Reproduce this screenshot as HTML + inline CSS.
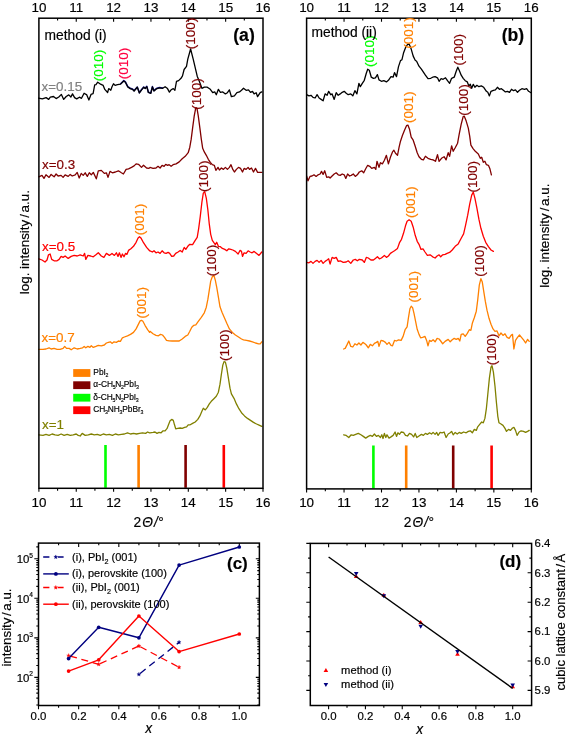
<!DOCTYPE html>
<html><head><meta charset="utf-8"><title>figure</title>
<style>
html,body{margin:0;padding:0;background:#fff;overflow:hidden}
svg{display:block}
text{font-family:"Liberation Sans",Arial,sans-serif;fill:#000;stroke:#000;stroke-width:0.18px;stroke-linejoin:round}
.t{font-size:13.4px;text-anchor:middle}
.t2{font-size:11.4px;text-anchor:middle}
.yl{font-size:13.4px}
.ax{fill:none;stroke:#000;stroke-width:1.5}
.tk{stroke:#000;stroke-width:1.1;fill:none}
.c{fill:none;stroke-linejoin:round;stroke-linecap:round}
.pk{font-size:13.5px}
.lab{font-size:13.8px}
.pl{font-size:17.6px;font-weight:bold;text-anchor:middle}
.lg{font-size:8.4px;stroke-width:0.15px}
.lg2{font-size:11.2px}
</style></head><body>
<svg width="567" height="736" viewBox="0 0 567 736">
<rect width="567" height="736" fill="#fff"/>

<rect x="104.2" y="445" width="2.6" height="42.8" fill="#00ff00"/>
<rect x="137.3" y="445" width="2.6" height="42.8" fill="#ff8000"/>
<rect x="184.3" y="445" width="2.6" height="42.8" fill="#800000"/>
<rect x="222.5" y="445" width="2.6" height="42.8" fill="#ff0000"/>
<rect x="372.1" y="445.5" width="2.6" height="42.9" fill="#00ff00"/>
<rect x="404.9" y="445.5" width="2.6" height="42.9" fill="#ff8000"/>
<rect x="451.9" y="445.5" width="2.6" height="42.9" fill="#800000"/>
<rect x="490.3" y="445.5" width="2.6" height="42.9" fill="#ff0000"/>
<polyline class="c" stroke="#1a1a9a" stroke-width="1.5"  points="120.6,83.8 123.8,80.6 125.4,81.9 127.8,86.6 130.2,88.2 132.5,89.0 134.1,90.6 137.3,87.0 139.4,92.7 141.6,89.5 143.7,87.0 145.2,88.2 146.8,86.3 148.4,92.2 150.8,93.0 152.4,86.6 154.0,90.6 156.3,88.5 159.5,87.4 162.7,87.9"/>
<polyline class="c" stroke="#000" stroke-width="1.3"  points="38.6,98.1 42.3,98.9 46.1,97.6 48.7,99.4 50.3,97.2 53.5,96.5 56.1,98.6 58.8,97.0 61.4,94.4 63.7,99.4 66.2,96.5 68.8,94.9 70.9,97.0 72.5,93.9 74.6,97.6 76.7,98.9 79.4,97.2 81.5,98.3 84.1,93.3 86.8,94.9 88.9,100.0 91.0,94.4 93.1,93.7 94.7,84.9 96.0,84.6 97.7,82.2 100.0,83.8 103.2,85.4 104.8,89.4 107.6,92.5 108.7,88.6 110.8,90.2 111.9,87.0 113.5,83.8 115.1,85.4 117.5,84.6 120.6,84.1 123.8,81.0 125.4,82.2 127.8,87.0 130.2,88.6 132.5,89.4 134.1,91.0 137.3,87.3 139.4,93.0 141.6,89.8 143.7,87.3 145.2,88.6 146.8,86.7 148.4,92.5 150.8,93.3 152.4,87.0 154.0,91.0 156.3,88.9 159.5,87.8 162.7,88.3 165.1,86.7 167.5,88.6 169.4,92.1 171.1,89.8 173.3,88.6 174.9,90.2 176.5,81.4 178.6,80.6 181.0,78.3 182.5,75.9 184.1,69.5 186.5,66.3 187.8,59.1 190.6,49.0 193.2,59.1 197.2,76.2 199.3,81.2 201.9,88.3 204.3,87.2 207.3,87.2 210.3,89.3 212.7,92.7 214.7,91.9 216.3,94.7 218.4,89.3 220.4,92.3 222.8,91.9 225.4,93.9 227.4,92.7 229.4,89.9 231.4,96.7 234.4,95.9 236.9,92.7 239.5,91.9 241.5,90.3 243.5,88.3 246.1,90.3 248.5,89.9 250.5,92.3 252.5,91.3 254.1,93.9 256.2,92.7 257.6,96.7 260.2,92.7 261.8,91.9"/>
<polyline class="c" stroke="#800000" stroke-width="1.3"  points="38.8,176.8 42.0,175.4 44.0,178.4 46.0,174.8 49.1,177.4 51.1,174.4 54.1,176.8 56.1,174.0 58.1,176.0 61.1,175.4 63.1,177.4 65.1,174.8 68.2,176.4 70.2,174.4 72.2,176.0 75.2,174.8 77.2,172.4 79.2,178.0 81.2,173.4 83.2,175.4 85.2,172.8 87.3,176.4 89.3,172.8 91.3,174.8 93.3,172.4 96.3,178.8 98.3,170.8 101.3,170.4 104.3,173.4 106.4,172.8 108.0,177.4 110.0,171.4 112.4,172.8 115.4,172.0 118.4,170.8 121.4,172.8 123.4,174.0 126.1,169.4 128.5,168.8 131.5,167.4 134.1,165.9 136.1,163.9 138.5,164.3 141.5,167.4 143.5,165.3 146.6,168.0 149.0,168.4 150.0,167.4 153.0,168.4 156.0,168.0 158.0,166.3 160.1,168.0 162.1,165.3 164.1,166.3 165.7,164.3 167.7,165.3 169.1,164.7 171.1,166.3 173.1,164.7 176.1,163.9 179.2,161.9 182.2,158.7 185.2,156.3 188.2,152.7 189.8,147.2 191.2,139.2 192.6,128.1 194.2,116.1 195.8,107.6 197.0,108.4 198.3,116.1 199.9,128.1 201.3,139.2 202.7,148.3 204.3,151.9 206.3,155.3 208.3,159.3 210.3,162.3 212.3,164.7 214.3,165.3 215.9,170.4 218.0,167.4 219.4,170.0 221.4,168.0 223.4,169.4 225.4,167.4 227.4,169.4 229.4,167.4 231.0,164.7 232.8,169.4 234.4,172.0 236.4,169.4 238.5,167.4 240.5,168.4 242.5,172.0 244.1,168.4 246.1,169.4 248.1,167.4 249.5,169.4 251.5,168.0 253.5,172.0 255.5,168.4 257.6,172.4 261.8,172.4"/>
<polyline class="c" stroke="#ff0000" stroke-width="1.3"  points="38.8,258.8 42.0,260.0 45.0,262.0 47.0,260.0 48.5,254.8 50.1,254.0 51.7,259.4 54.1,260.8 57.1,260.8 59.1,259.4 61.1,256.4 63.1,257.4 65.1,256.0 68.2,258.4 71.2,256.4 74.2,255.4 77.2,256.0 80.2,254.8 83.2,256.0 84.6,253.4 85.8,259.4 87.9,255.4 90.7,256.0 93.3,256.8 95.9,254.8 98.3,252.8 101.3,256.0 103.9,257.4 106.4,253.4 109.4,255.4 112.0,253.4 114.4,255.4 116.4,252.8 118.0,256.4 119.4,252.8 121.0,257.4 122.4,254.0 124.0,256.8 125.5,253.4 126.9,254.4 128.5,250.4 130.9,248.8 133.5,246.3 136.1,242.3 138.1,237.9 139.5,236.7 140.9,237.9 143.5,242.7 146.6,247.4 149.6,250.8 150.0,250.8 152.4,252.0 154.0,250.8 156.0,252.8 158.0,252.0 160.1,253.4 162.1,250.8 164.1,252.8 166.1,253.4 168.1,252.4 169.7,253.4 171.7,256.4 173.7,256.0 175.7,253.4 178.1,252.0 180.2,250.4 182.2,252.0 184.2,247.4 185.8,249.4 187.8,246.3 189.8,244.3 192.6,244.7 195.2,240.3 197.2,237.3 198.7,228.3 200.3,216.2 201.9,202.1 203.3,193.1 204.7,191.7 206.3,198.1 207.9,210.2 209.3,224.2 210.7,234.3 212.3,240.3 213.9,242.7 215.3,244.7 216.7,242.3 218.4,246.3 220.4,246.7 222.4,248.4 224.8,249.4 226.8,250.8 228.8,248.8 230.8,249.4 232.8,250.0 235.4,251.4 238.1,254.0 240.1,250.4 241.5,251.4 242.5,256.4 244.1,252.8 246.1,253.4 248.1,250.8 250.1,252.0 252.1,252.8 254.1,251.4 256.6,253.4 259.0,255.4 261.8,252.0"/>
<polyline class="c" stroke="#ff8000" stroke-width="1.3"  points="38.8,349.4 43.0,349.4 46.0,349.0 49.1,347.8 51.1,349.0 54.1,348.4 57.1,349.4 60.1,349.4 63.1,348.4 64.7,346.4 66.5,348.4 69.2,348.4 71.2,349.8 74.2,347.8 77.2,349.0 80.2,348.4 82.6,347.8 84.2,346.4 85.8,347.8 87.9,346.4 89.9,347.4 91.3,345.8 93.3,347.4 95.9,346.4 98.3,345.4 101.3,345.8 104.3,345.0 106.4,343.0 108.4,342.4 110.4,341.8 112.0,343.4 114.0,341.8 116.4,342.4 118.4,341.0 120.4,341.4 122.4,337.8 124.4,337.0 127.5,335.8 130.5,334.4 133.5,332.4 136.1,328.9 138.1,324.9 140.1,320.9 141.5,320.3 142.9,321.3 145.0,325.3 147.6,329.7 149.6,332.4 150.0,331.3 153.0,333.8 156.0,335.4 158.4,335.8 160.5,334.4 162.5,335.0 164.5,337.4 166.5,340.4 169.1,340.8 172.1,341.0 175.1,341.0 179.2,341.0 182.2,339.0 185.2,336.4 187.8,335.0 189.8,331.3 191.8,327.3 193.8,325.3 195.8,324.9 198.3,321.3 201.3,317.3 204.3,312.8 206.3,307.2 207.9,299.2 209.3,290.1 210.7,281.1 212.3,276.7 213.9,275.5 215.3,280.1 216.7,287.1 218.4,297.2 220.0,306.8 222.0,312.2 224.4,317.7 226.8,323.3 229.4,328.9 232.4,332.4 235.4,335.0 238.5,337.0 241.5,339.0 243.5,339.8 246.5,340.4 249.5,341.0 252.5,341.8 255.5,343.0 258.6,343.8 260.2,343.8 261.8,341.8"/>
<polyline class="c" stroke="#808000" stroke-width="1.3"  points="38.8,434.8 43.0,435.4 46.0,434.4 49.1,435.4 52.1,434.0 55.1,434.8 58.1,435.4 61.1,434.0 64.1,435.4 67.2,434.4 70.2,435.4 73.2,434.8 76.2,434.0 78.2,435.4 80.2,436.0 82.2,433.4 85.2,435.4 88.3,434.8 91.3,434.0 94.3,434.8 97.3,434.4 100.3,435.4 103.3,434.0 106.4,434.8 109.4,434.4 112.4,435.4 115.4,434.0 118.4,434.8 121.4,434.4 124.4,434.0 127.5,432.8 130.5,434.0 133.5,433.4 136.5,434.0 139.5,433.4 142.5,432.8 145.6,433.4 147.6,432.0 149.6,432.8 150.0,432.8 153.0,432.4 155.0,432.0 157.0,433.4 159.0,432.4 161.1,432.8 163.1,430.8 165.1,430.8 167.1,428.4 168.5,424.8 170.1,420.8 171.7,419.4 173.3,420.4 174.5,424.8 175.7,428.8 177.7,428.4 180.2,428.0 182.2,428.4 184.6,427.4 186.6,426.8 188.2,424.8 190.2,424.8 192.6,423.4 195.2,422.0 197.8,419.4 199.9,415.9 201.9,411.3 203.3,408.3 205.3,409.9 207.3,407.3 209.3,403.9 211.3,401.3 213.9,398.7 216.3,396.2 218.4,392.2 220.0,384.2 221.4,374.1 222.8,365.1 224.0,361.7 225.4,362.1 226.8,368.1 228.4,378.1 230.0,388.2 231.4,393.8 234.0,398.3 236.4,403.9 238.9,408.7 241.5,412.7 244.5,415.9 247.5,418.4 250.5,420.4 253.5,422.4 256.6,424.0 259.6,425.4 261.8,426.4"/>
<polyline class="c" stroke="#000" stroke-width="1.3"  points="306.6,94.7 309.0,95.9 311.0,95.3 313.0,97.4 315.1,98.0 317.1,94.7 319.1,98.0 321.1,99.4 323.1,100.8 325.1,93.9 327.1,95.3 328.7,91.3 330.7,94.7 332.1,93.9 334.2,99.4 336.2,92.7 338.2,95.3 340.2,93.9 342.2,92.3 344.2,91.3 346.2,93.3 348.2,94.7 350.8,93.9 352.8,95.9 354.9,90.7 356.9,93.9 358.9,83.3 360.3,86.7 362.3,83.3 364.3,80.3 366.3,73.2 367.7,69.2 369.3,70.2 371.3,77.2 373.4,78.3 375.4,77.8 377.4,74.6 379.0,79.9 381.4,81.3 383.8,80.7 386.4,81.9 388.4,80.3 391.0,76.6 393.1,77.2 394.5,72.6 396.5,76.6 398.5,66.6 400.5,60.6 401.9,59.8 403.5,53.1 405.5,47.7 407.5,44.5 409.1,44.1 411.2,49.1 413.2,56.1 415.2,60.2 416.6,61.2 419.0,66.2 421.4,69.2 423.4,72.2 425.4,75.2 428.0,78.7 430.7,78.3 432.7,77.2 435.1,76.6 437.5,77.8 439.1,81.3 441.1,78.7 443.1,79.3 445.5,77.8 447.5,80.7 449.6,83.3 451.6,78.3 454.2,77.2 456.2,71.2 457.8,67.2 459.2,70.2 461.2,75.2 463.2,78.3 465.2,80.7 467.3,81.9 468.9,85.9 470.3,84.3 471.7,88.3 473.3,84.3 474.9,87.3 476.9,85.3 478.9,86.7 481.3,85.9 483.7,87.3 486.4,91.3 487.8,92.3 489.4,95.9 491.0,91.3 493.4,90.3 495.4,89.9 497.4,87.3 499.4,89.3 501.4,88.7 503.4,90.3 505.4,91.9 507.5,91.3 509.5,92.3 511.5,89.3 513.5,90.7 515.5,89.9 517.5,92.3 519.5,90.3 521.9,88.7 524.5,89.3 526.6,88.7 528.6,91.3 531.0,92.7"/>
<polyline class="c" stroke="#800000" stroke-width="1.3"  points="306.6,176.0 308.0,180.8 310.0,176.4 312.0,176.0 314.0,174.8 316.1,176.4 318.1,174.8 320.1,174.0 321.5,171.4 323.1,174.4 324.7,170.8 326.7,177.4 328.7,176.8 330.1,178.0 332.1,176.0 334.2,174.0 336.2,172.8 338.2,174.8 340.2,175.4 342.2,174.0 344.2,174.8 345.8,178.4 347.6,174.0 349.6,176.0 351.2,175.4 353.3,174.0 355.3,176.4 357.3,174.8 359.3,172.0 361.7,170.8 363.7,172.8 365.7,168.8 367.7,165.3 369.7,166.3 371.7,168.4 374.4,167.4 375.8,169.4 377.0,161.3 379.0,167.4 380.4,162.7 382.4,163.9 384.4,160.3 386.4,155.3 388.4,163.9 390.4,157.3 392.5,151.9 393.9,150.3 395.5,153.3 397.5,155.3 399.1,147.2 400.5,141.2 402.5,135.2 404.5,130.2 406.5,125.7 407.9,125.1 409.5,129.2 411.2,137.2 413.2,140.2 415.2,146.2 417.2,152.7 419.0,156.7 421.4,159.3 423.4,159.9 425.4,156.3 428.0,158.3 430.7,159.3 433.1,159.9 435.5,161.3 437.5,154.7 439.1,161.3 441.5,158.3 444.1,156.7 446.1,159.9 448.2,152.7 449.6,156.3 451.6,145.8 453.2,151.3 455.2,147.8 457.6,143.2 459.2,134.2 461.2,124.1 463.2,116.5 464.2,116.1 466.2,121.1 468.3,128.1 469.7,136.2 470.9,145.2 472.9,148.3 475.3,151.3 478.3,153.9 480.3,158.3 481.7,157.3 483.3,162.3 484.9,161.3 486.4,164.7 488.4,165.3 489.8,168.4 491.4,174.8"/>
<polyline class="c" stroke="#ff0000" stroke-width="1.3"  points="306.6,262.4 309.0,262.8 311.0,261.4 313.0,263.4 315.1,261.4 317.1,260.4 319.1,262.4 321.1,260.4 323.1,263.4 325.1,261.4 327.1,260.0 328.7,258.8 330.1,264.0 332.1,257.4 334.2,258.4 336.2,257.4 338.2,261.4 340.2,260.8 343.2,262.4 346.2,262.0 348.2,260.8 350.8,263.4 353.3,260.0 355.3,259.4 357.3,260.8 359.3,259.4 362.3,260.0 364.3,262.4 366.3,257.4 368.3,258.0 370.9,260.0 373.4,260.0 375.4,258.4 377.4,256.8 379.4,258.8 381.4,258.0 384.4,255.4 386.4,257.4 388.4,256.0 390.4,253.4 392.5,252.0 394.5,250.8 397.5,248.4 399.5,242.7 401.5,239.3 403.5,233.3 405.5,225.8 407.1,221.2 409.1,219.8 411.2,221.2 413.2,227.2 415.2,235.3 417.2,241.3 419.0,244.3 421.0,249.4 423.0,248.8 425.0,252.0 427.4,255.4 430.1,254.8 432.7,256.8 435.1,258.0 437.1,256.0 439.1,254.8 440.7,256.8 442.7,254.8 445.1,254.4 447.1,253.4 449.6,252.4 452.2,250.0 455.2,246.3 458.2,243.9 461.2,238.3 463.6,233.9 465.6,225.2 467.7,215.2 469.7,204.1 471.7,195.1 473.3,192.1 474.9,198.1 476.9,208.1 478.9,219.2 480.9,228.3 483.3,236.3 485.7,242.3 488.4,246.7 491.0,250.0 493.4,251.4"/>
<polyline class="c" stroke="#ff8000" stroke-width="1.3"  points="343.6,349.0 345.2,348.4 347.2,344.4 348.8,341.0 350.8,346.4 352.8,347.0 354.9,343.8 356.9,345.0 358.9,343.0 360.9,345.0 362.9,342.4 364.9,343.8 366.3,345.0 368.3,347.8 370.3,344.4 372.4,345.8 374.4,343.4 376.4,342.4 377.8,341.4 379.0,346.4 381.0,340.4 383.4,341.0 385.4,342.4 387.0,344.4 389.0,342.4 391.0,345.4 392.5,345.8 394.5,340.4 396.5,341.0 398.5,339.8 401.1,340.4 403.1,336.4 405.1,329.7 407.1,326.9 408.5,317.3 409.9,308.8 411.2,306.2 412.6,307.6 414.0,313.3 415.6,321.3 417.2,329.3 419.0,334.4 420.6,337.8 422.6,337.4 425.0,336.4 426.6,340.4 428.0,345.8 429.5,340.4 431.1,341.4 433.1,339.8 435.1,341.8 437.1,338.4 439.1,339.0 440.7,341.0 442.7,343.8 445.1,341.4 448.2,339.4 450.2,341.8 452.2,339.8 454.2,338.4 456.2,339.4 458.2,338.4 459.8,341.0 461.2,334.4 463.2,333.8 465.2,336.4 467.3,333.4 469.3,329.7 470.9,330.3 472.3,323.3 474.3,317.7 476.3,311.2 477.7,300.2 479.3,285.1 480.9,278.7 482.3,282.1 483.7,291.1 485.3,301.2 487.0,310.2 489.0,318.3 491.0,324.3 493.0,328.9 495.0,331.3 497.0,330.9 499.0,335.8 501.0,333.0 503.0,335.4 505.0,333.8 507.1,337.4 509.1,338.4 511.1,335.4 512.5,334.4 513.9,349.0 515.5,340.4 517.5,337.4 519.5,335.0 521.9,337.8 523.9,340.4 525.6,343.0 527.6,339.4 529.2,341.4"/>
<polyline class="c" stroke="#808000" stroke-width="1.3"  points="343.6,434.8 346.2,435.4 348.8,437.5 351.2,434.8 353.3,435.4 355.7,434.4 358.3,433.4 360.9,434.8 363.3,436.4 365.7,438.1 368.3,436.4 370.3,435.4 372.4,436.4 374.4,434.0 376.4,436.4 378.4,435.4 380.4,437.5 381.8,434.8 383.0,438.5 384.4,433.4 385.8,437.5 387.0,434.8 389.0,438.1 391.0,436.9 393.1,435.4 395.1,432.0 396.5,436.4 397.9,432.8 399.5,434.4 401.1,432.0 403.5,432.4 405.5,435.4 407.5,436.0 409.5,433.4 411.6,434.4 413.6,436.9 415.2,433.4 416.8,437.5 419.0,436.0 421.4,434.4 423.4,435.4 425.4,433.4 427.4,434.4 429.5,432.8 431.5,434.0 433.1,432.4 435.1,434.4 436.7,432.4 438.1,435.4 440.1,432.4 442.1,432.8 444.1,432.0 446.1,437.5 448.2,434.0 450.2,432.8 451.6,431.4 453.2,434.8 455.2,432.4 457.2,434.0 459.2,432.4 461.2,433.4 463.6,432.0 466.2,432.8 468.3,431.4 470.3,430.8 472.3,432.8 474.3,429.4 476.3,430.4 477.7,426.8 479.7,424.4 481.7,422.0 483.3,422.8 484.9,418.4 486.4,408.3 487.8,394.2 489.4,378.1 491.0,367.1 492.0,365.7 493.4,372.1 495.0,386.2 496.4,402.3 497.8,416.3 499.0,422.8 501.0,424.0 503.0,425.4 505.0,428.4 506.5,431.4 508.5,429.4 510.5,430.4 512.5,428.0 513.9,427.4 515.5,430.4 517.1,435.4 519.1,432.0 521.1,430.8 523.5,431.4 525.6,432.4 527.6,431.4 529.2,430.4"/>
<g id="pa">
<path class="tk" d="M38.90 488.3v3.5M57.58 18.2v2.4M57.58 488.3v2.4M76.25 18.2v3.5M76.25 488.3v3.5M94.92 18.2v2.4M94.92 488.3v2.4M113.60 18.2v3.5M113.60 488.3v3.5M132.28 18.2v2.4M132.28 488.3v2.4M150.95 18.2v3.5M150.95 488.3v3.5M169.62 18.2v2.4M169.62 488.3v2.4M188.30 18.2v3.5M188.30 488.3v3.5M206.97 18.2v2.4M206.97 488.3v2.4M225.65 18.2v3.5M225.65 488.3v3.5M244.32 18.2v2.4M244.32 488.3v2.4M263.00 488.3v3.5"/>
<rect class="ax" x="38.9" y="18.2" width="224.10" height="470.10"/>
<text class="t" x="38.9" y="11.5">10</text>
<text class="t" x="38.9" y="506.6">10</text>
<text class="t" x="76.2" y="11.5">11</text>
<text class="t" x="76.2" y="506.6">11</text>
<text class="t" x="113.6" y="11.5">12</text>
<text class="t" x="113.6" y="506.6">12</text>
<text class="t" x="150.9" y="11.5">13</text>
<text class="t" x="150.9" y="506.6">13</text>
<text class="t" x="188.3" y="11.5">14</text>
<text class="t" x="188.3" y="506.6">14</text>
<text class="t" x="225.7" y="11.5">15</text>
<text class="t" x="225.7" y="506.6">15</text>
<text class="t" x="263.0" y="11.5">16</text>
<text class="t" x="263.0" y="506.6">16</text>
</g>
<g id="pb">
<path class="tk" d="M306.60 488.9v3.5M325.33 18.2v2.4M325.33 488.9v2.4M344.05 18.2v3.5M344.05 488.9v3.5M362.77 18.2v2.4M362.77 488.9v2.4M381.50 18.2v3.5M381.50 488.9v3.5M400.22 18.2v2.4M400.22 488.9v2.4M418.95 18.2v3.5M418.95 488.9v3.5M437.67 18.2v2.4M437.67 488.9v2.4M456.40 18.2v3.5M456.40 488.9v3.5M475.12 18.2v2.4M475.12 488.9v2.4M493.85 18.2v3.5M493.85 488.9v3.5M512.57 18.2v2.4M512.57 488.9v2.4M531.30 488.9v3.5"/>
<rect class="ax" x="306.6" y="18.2" width="224.70" height="470.70"/>
<text class="t" x="306.6" y="11.5">10</text>
<text class="t" x="306.6" y="506.6">10</text>
<text class="t" x="344.1" y="11.5">11</text>
<text class="t" x="344.1" y="506.6">11</text>
<text class="t" x="381.5" y="11.5">12</text>
<text class="t" x="381.5" y="506.6">12</text>
<text class="t" x="418.9" y="11.5">13</text>
<text class="t" x="418.9" y="506.6">13</text>
<text class="t" x="456.4" y="11.5">14</text>
<text class="t" x="456.4" y="506.6">14</text>
<text class="t" x="493.8" y="11.5">15</text>
<text class="t" x="493.8" y="506.6">15</text>
<text class="t" x="531.3" y="11.5">16</text>
<text class="t" x="531.3" y="506.6">16</text>
</g>
<text class="pk" transform="translate(103.0 81.2) rotate(-90)" style="fill:#00ff00;stroke:#00ff00">(010)</text>
<text class="pk" transform="translate(128.1 79.2) rotate(-90)" style="fill:#ff0040;stroke:#ff0040">(010)</text>
<text class="pk" transform="translate(195.3 49.2) rotate(-90)" style="fill:#800000;stroke:#800000">(100)</text>
<text class="pk" transform="translate(200.8 109.7) rotate(-90)" style="fill:#800000;stroke:#800000">(100)</text>
<text class="pk" transform="translate(144.0 235.2) rotate(-90)" style="fill:#ff8000;stroke:#ff8000">(001)</text>
<text class="pk" transform="translate(208.2 192.0) rotate(-90)" style="fill:#800000;stroke:#800000">(100)</text>
<text class="pk" transform="translate(146.2 318.5) rotate(-90)" style="fill:#ff8000;stroke:#ff8000">(001)</text>
<text class="pk" transform="translate(216.4 276.3) rotate(-90)" style="fill:#800000;stroke:#800000">(100)</text>
<text class="pk" transform="translate(228.5 361.0) rotate(-90)" style="fill:#800000;stroke:#800000">(100)</text>
<text class="pk" transform="translate(374.0 67.0) rotate(-90)" style="fill:#00ff00;stroke:#00ff00">(010)</text>
<text class="pk" transform="translate(413.4 48.7) rotate(-90)" style="fill:#ff8000;stroke:#ff8000">(001)</text>
<text class="pk" transform="translate(463.1 65.5) rotate(-90)" style="fill:#800000;stroke:#800000">(100)</text>
<text class="pk" transform="translate(413.2 122.9) rotate(-90)" style="fill:#ff8000;stroke:#ff8000">(001)</text>
<text class="pk" transform="translate(468.1 115.7) rotate(-90)" style="fill:#800000;stroke:#800000">(100)</text>
<text class="pk" transform="translate(414.5 218.0) rotate(-90)" style="fill:#ff8000;stroke:#ff8000">(001)</text>
<text class="pk" transform="translate(476.7 192.5) rotate(-90)" style="fill:#800000;stroke:#800000">(100)</text>
<text class="pk" transform="translate(417.7 302.4) rotate(-90)" style="fill:#ff8000;stroke:#ff8000">(001)</text>
<text class="pk" transform="translate(484.2 276.7) rotate(-90)" style="fill:#800000;stroke:#800000">(100)</text>
<text class="pk" transform="translate(496.1 365.3) rotate(-90)" style="fill:#800000;stroke:#800000">(100)</text>
<text class="lab" x="41.6" y="90.9" style="font-size:13.4px;fill:#808080;stroke:#808080">x=0.15</text>
<text class="lab" x="42" y="168.9" style="font-size:13.4px;fill:#800000;stroke:#800000">x=0.3</text>
<text class="lab" x="42" y="250.5" style="font-size:13.4px;fill:#ff0000;stroke:#ff0000">x=0.5</text>
<text class="lab" x="41.5" y="342.3" style="font-size:13.4px;fill:#ff8000;stroke:#ff8000">x=0.7</text>
<text class="lab" x="42" y="428.9" style="font-size:13.4px;fill:#808000;stroke:#808000">x=1</text>
<rect x="73.2" y="369.1" width="17.2" height="7.8" fill="#ff8000"/><text class="lg" x="93.3" y="375.0">PbI<tspan dx="-0.3" dy="2.1" style="font-size:5.2px">2</tspan><tspan dx="-0.3" dy="-2.1" style="font-size:0.1px"> </tspan></text>
<rect x="73.2" y="381.3" width="17.2" height="7.8" fill="#800000"/><text class="lg" x="93.3" y="387.2">α-CH<tspan dx="-0.3" dy="2.1" style="font-size:5.2px">5</tspan><tspan dx="-0.3" dy="-2.1" style="font-size:0.1px"> </tspan>N<tspan dx="-0.3" dy="2.1" style="font-size:5.2px">2</tspan><tspan dx="-0.3" dy="-2.1" style="font-size:0.1px"> </tspan>PbI<tspan dx="-0.3" dy="2.1" style="font-size:5.2px">3</tspan><tspan dx="-0.3" dy="-2.1" style="font-size:0.1px"> </tspan></text>
<rect x="73.2" y="393.8" width="17.2" height="7.8" fill="#00ff00"/><text class="lg" x="93.3" y="399.7">δ-CH<tspan dx="-0.3" dy="2.1" style="font-size:5.2px">5</tspan><tspan dx="-0.3" dy="-2.1" style="font-size:0.1px"> </tspan>N<tspan dx="-0.3" dy="2.1" style="font-size:5.2px">2</tspan><tspan dx="-0.3" dy="-2.1" style="font-size:0.1px"> </tspan>PbI<tspan dx="-0.3" dy="2.1" style="font-size:5.2px">3</tspan><tspan dx="-0.3" dy="-2.1" style="font-size:0.1px"> </tspan></text>
<rect x="73.2" y="406.3" width="17.2" height="7.8" fill="#ff0000"/><text class="lg" x="93.3" y="412.2">CH<tspan dx="-0.3" dy="2.1" style="font-size:5.2px">3</tspan><tspan dx="-0.3" dy="-2.1" style="font-size:0.1px"> </tspan>NH<tspan dx="-0.3" dy="2.1" style="font-size:5.2px">3</tspan><tspan dx="-0.3" dy="-2.1" style="font-size:0.1px"> </tspan>PbBr<tspan dx="-0.3" dy="2.1" style="font-size:5.2px">3</tspan><tspan dx="-0.3" dy="-2.1" style="font-size:0.1px"> </tspan></text>
<text class="lab" x="44.6" y="40.1">method (i)</text><text class="lab" x="311.6" y="36.9">method (ii)</text><text class="pl" x="244" y="41.1">(a)</text><text class="pl" x="513" y="41.1">(b)</text><text class="yl" transform="translate(28.9 294.2) rotate(-90)">log. intensity<tspan dx="2">/</tspan><tspan dx="1.6">a.u.</tspan></text><text class="yl" transform="translate(548.6 287.7) rotate(-90)">log. intensity<tspan dx="2">/</tspan><tspan dx="1.6">a.u.</tspan></text><text class="lab" x="133.6" y="526.7">2<tspan dx="0.9" style="font-style:italic">Θ</tspan><tspan dx="1.2" style="font-style:italic">/</tspan><tspan dx="0.3">°</tspan></text><text class="lab" x="403.8" y="526.7">2<tspan dx="0.9" style="font-style:italic">Θ</tspan><tspan dx="1.2" style="font-style:italic">/</tspan><tspan dx="0.3">°</tspan></text>
<path class="tk" d="M38.50 705.5v3.8M58.58 543.1v2.2M58.58 705.5v2.2M78.66 543.1v3.8M78.66 705.5v3.8M98.75 543.1v2.2M98.75 705.5v2.2M118.83 543.1v3.8M118.83 705.5v3.8M138.91 543.1v2.2M138.91 705.5v2.2M158.99 543.1v3.8M158.99 705.5v3.8M179.07 543.1v2.2M179.07 705.5v2.2M199.15 543.1v3.8M199.15 705.5v3.8M219.24 543.1v2.2M219.24 705.5v2.2M239.32 543.1v3.8M239.32 705.5v3.8M38.5 705.04h-2.2M259.4 705.04h-2.1M38.5 698.08h-2.2M259.4 698.08h-2.1M38.5 693.14h-2.2M259.4 693.14h-2.1M38.5 689.31h-2.2M259.4 689.31h-2.1M38.5 686.17h-2.2M259.4 686.17h-2.1M38.5 683.53h-2.2M259.4 683.53h-2.1M38.5 681.23h-2.2M259.4 681.23h-2.1M38.5 679.21h-2.2M259.4 679.21h-2.1M38.5 677.40h-4.2M259.4 677.40h-3.6M38.5 665.49h-2.2M259.4 665.49h-2.1M38.5 658.53h-2.2M259.4 658.53h-2.1M38.5 653.59h-2.2M259.4 653.59h-2.1M38.5 649.76h-2.2M259.4 649.76h-2.1M38.5 646.62h-2.2M259.4 646.62h-2.1M38.5 643.98h-2.2M259.4 643.98h-2.1M38.5 641.68h-2.2M259.4 641.68h-2.1M38.5 639.66h-2.2M259.4 639.66h-2.1M38.5 637.85h-4.2M259.4 637.85h-3.6M38.5 625.94h-2.2M259.4 625.94h-2.1M38.5 618.98h-2.2M259.4 618.98h-2.1M38.5 614.04h-2.2M259.4 614.04h-2.1M38.5 610.21h-2.2M259.4 610.21h-2.1M38.5 607.07h-2.2M259.4 607.07h-2.1M38.5 604.43h-2.2M259.4 604.43h-2.1M38.5 602.13h-2.2M259.4 602.13h-2.1M38.5 600.11h-2.2M259.4 600.11h-2.1M38.5 598.30h-4.2M259.4 598.30h-3.6M38.5 586.39h-2.2M259.4 586.39h-2.1M38.5 579.43h-2.2M259.4 579.43h-2.1M38.5 574.49h-2.2M259.4 574.49h-2.1M38.5 570.66h-2.2M259.4 570.66h-2.1M38.5 567.52h-2.2M259.4 567.52h-2.1M38.5 564.88h-2.2M259.4 564.88h-2.1M38.5 562.58h-2.2M259.4 562.58h-2.1M38.5 560.56h-2.2M259.4 560.56h-2.1M38.5 558.75h-4.2M259.4 558.75h-3.6M38.5 546.84h-2.2M259.4 546.84h-2.1"/>
<rect class="ax" x="38.5" y="543.1" width="220.90" height="162.40"/>
<text class="t2" x="38.5" y="719.9">0.0</text>
<text class="t2" x="78.7" y="719.9">0.2</text>
<text class="t2" x="118.8" y="719.9">0.4</text>
<text class="t2" x="159.0" y="719.9">0.6</text>
<text class="t2" x="199.2" y="719.9">0.8</text>
<text class="t2" x="239.3" y="719.9">1.0</text>
<text class="t2" style="text-anchor:end;font-size:11.4px" x="32.8" y="681.6">10<tspan dy="-5.5" dx="-0.2" style="font-size:6.6px">2</tspan></text>
<text class="t2" style="text-anchor:end;font-size:11.4px" x="32.8" y="642.1">10<tspan dy="-5.5" dx="-0.2" style="font-size:6.6px">3</tspan></text>
<text class="t2" style="text-anchor:end;font-size:11.4px" x="32.8" y="602.5">10<tspan dy="-5.5" dx="-0.2" style="font-size:6.6px">4</tspan></text>
<text class="t2" style="text-anchor:end;font-size:11.4px" x="32.8" y="563.0">10<tspan dy="-5.5" dx="-0.2" style="font-size:6.6px">5</tspan></text>
<path d="M138.9 674.4L179.1 642.3" stroke="#000080" stroke-width="1.3" fill="none" stroke-dasharray="7 4.7" stroke-dashoffset="-1.6"/>
<polygon points="138.91,672.30 139.43,673.69 140.91,673.75 139.75,674.67 140.14,676.10 138.91,675.28 137.67,676.10 138.07,674.67 136.91,673.75 138.39,673.69" fill="#000080" stroke="#000080" stroke-width="0.3"/>
<polygon points="179.07,640.20 179.59,641.59 181.07,641.65 179.91,642.57 180.31,644.00 179.07,643.18 177.84,644.00 178.23,642.57 177.08,641.65 178.55,641.59" fill="#000080" stroke="#000080" stroke-width="0.3"/>
<path d="M68.6 655.6L98.7 664.3" stroke="#ff0000" stroke-width="1.3" fill="none" stroke-dasharray="7 4.7" stroke-dashoffset="-1.6"/>
<path d="M98.7 664.3L138.9 646.0" stroke="#ff0000" stroke-width="1.3" fill="none" stroke-dasharray="7 4.7" stroke-dashoffset="-1.6"/>
<path d="M138.9 646.0L179.1 667.3" stroke="#ff0000" stroke-width="1.3" fill="none" stroke-dasharray="7 4.7" stroke-dashoffset="-1.6"/>
<polygon points="68.62,653.50 69.14,654.89 70.62,654.95 69.46,655.87 69.86,657.30 68.62,656.48 67.39,657.30 67.78,655.87 66.63,654.95 68.10,654.89" fill="#ff0000" stroke="#ff0000" stroke-width="0.3"/>
<polygon points="98.75,662.20 99.26,663.59 100.74,663.65 99.58,664.57 99.98,666.00 98.75,665.18 97.51,666.00 97.91,664.57 96.75,663.65 98.23,663.59" fill="#ff0000" stroke="#ff0000" stroke-width="0.3"/>
<polygon points="138.91,643.90 139.43,645.29 140.91,645.35 139.75,646.27 140.14,647.70 138.91,646.88 137.67,647.70 138.07,646.27 136.91,645.35 138.39,645.29" fill="#ff0000" stroke="#ff0000" stroke-width="0.3"/>
<polygon points="179.07,665.20 179.59,666.59 181.07,666.65 179.91,667.57 180.31,669.00 179.07,668.18 177.84,669.00 178.23,667.57 177.08,666.65 178.55,666.59" fill="#ff0000" stroke="#ff0000" stroke-width="0.3"/>
<polyline class="c" stroke="#000080" stroke-width="1.4"  points="68.6,658.6 98.7,627.3 138.9,637.8 179.1,565.1 239.3,547.0"/>
<circle cx="68.6" cy="658.6" r="1.85" fill="#000080"/>
<circle cx="98.7" cy="627.3" r="1.85" fill="#000080"/>
<circle cx="138.9" cy="637.8" r="1.85" fill="#000080"/>
<circle cx="179.1" cy="565.1" r="1.85" fill="#000080"/>
<circle cx="239.3" cy="547.0" r="1.85" fill="#000080"/>
<polyline class="c" stroke="#ff0000" stroke-width="1.4"  points="68.6,671.1 98.7,659.8 138.9,616.0 179.1,651.6 239.3,634.0"/>
<circle cx="68.6" cy="671.1" r="1.85" fill="#ff0000"/>
<circle cx="98.7" cy="659.8" r="1.85" fill="#ff0000"/>
<circle cx="138.9" cy="616.0" r="1.85" fill="#ff0000"/>
<circle cx="179.1" cy="651.6" r="1.85" fill="#ff0000"/>
<circle cx="239.3" cy="634.0" r="1.85" fill="#ff0000"/>
<path d="M43.2 557h6.2M57.8 557h5.8" stroke="#000080" stroke-width="1.4" fill="none"/>
<polygon points="55.80,554.90 56.32,556.29 57.80,556.35 56.64,557.27 57.03,558.70 55.80,557.88 54.57,558.70 54.96,557.27 53.80,556.35 55.28,556.29" fill="#000080" stroke="#000080" stroke-width="0.3"/>
<text class="lg2" style="font-size:11px" x="72.1" y="560.8">(i), PbI<tspan dy="3.3" style="font-size:7.2px">2</tspan><tspan dy="-3.3"> (001)</tspan></text>
<path d="M43.2 573.9H68.8" stroke="#000080" stroke-width="1.4" fill="none"/>
<circle cx="55.9" cy="573.9" r="1.9" fill="#000080"/>
<text class="lg2" style="font-size:11px" x="72.1" y="577.3">(i), perovskite (100)</text>
<path d="M43.2 587.5h6.2M57.8 587.5h5.8" stroke="#ff0000" stroke-width="1.4" fill="none"/>
<polygon points="55.80,585.40 56.32,586.79 57.80,586.85 56.64,587.77 57.03,589.20 55.80,588.38 54.57,589.20 54.96,587.77 53.80,586.85 55.28,586.79" fill="#ff0000" stroke="#ff0000" stroke-width="0.3"/>
<text class="lg2" style="font-size:11px" x="72.1" y="590.8">(ii), PbI<tspan dy="3.3" style="font-size:7.2px">2</tspan><tspan dy="-3.3"> (001)</tspan></text>
<path d="M43.2 604.2H68.8" stroke="#ff0000" stroke-width="1.4" fill="none"/>
<circle cx="55.9" cy="604.2" r="1.9" fill="#ff0000"/>
<text class="lg2" style="font-size:11px" x="72.1" y="607.8">(ii), perovskite (100)</text>
<text class="pl" style="font-size:17px" x="237.4" y="568.8">(c)</text>
<text class="yl" transform="translate(11.3 666.6) rotate(-90)">intensity<tspan dx="1.5">/</tspan><tspan dx="1.5">a.u.</tspan></text>
<text class="lab" x="145.3" y="733" style="font-style:italic">x</text>
<path class="tk" d="M328.60 543.4v3.8M328.60 705.5v3.8M347.01 543.4v2.2M347.01 705.5v2.2M365.42 543.4v3.8M365.42 705.5v3.8M383.83 543.4v2.2M383.83 705.5v2.2M402.24 543.4v3.8M402.24 705.5v3.8M420.65 543.4v2.2M420.65 705.5v2.2M439.06 543.4v3.8M439.06 705.5v3.8M457.47 543.4v2.2M457.47 705.5v2.2M475.88 543.4v3.8M475.88 705.5v3.8M494.29 543.4v2.2M494.29 705.5v2.2M512.70 543.4v3.8M512.70 705.5v3.8M310.3 543.40h-4M310.3 558.10h-2.2M531.6 558.10h-2.2M310.3 572.80h-4M531.6 572.80h-4M310.3 587.50h-2.2M531.6 587.50h-2.2M310.3 602.20h-4M531.6 602.20h-4M310.3 616.90h-2.2M531.6 616.90h-2.2M310.3 631.60h-4M531.6 631.60h-4M310.3 646.30h-2.2M531.6 646.30h-2.2M310.3 661.00h-4M531.6 661.00h-4M310.3 675.70h-2.2M531.6 675.70h-2.2M310.3 690.40h-4M531.6 690.40h-4"/>
<rect class="ax" x="310.3" y="543.4" width="221.30" height="162.10"/>
<text class="t2" x="328.6" y="719.9">0.0</text>
<text class="t2" x="365.4" y="719.9">0.2</text>
<text class="t2" x="402.2" y="719.9">0.4</text>
<text class="t2" x="439.1" y="719.9">0.6</text>
<text class="t2" x="475.9" y="719.9">0.8</text>
<text class="t2" x="512.7" y="719.9">1.0</text>
<text class="t2" style="text-anchor:start" x="534.6" y="547.1">6.4</text>
<text class="t2" style="text-anchor:start" x="534.6" y="576.5">6.3</text>
<text class="t2" style="text-anchor:start" x="534.6" y="605.9">6.2</text>
<text class="t2" style="text-anchor:start" x="534.6" y="635.3">6.1</text>
<text class="t2" style="text-anchor:start" x="534.6" y="664.7">6.0</text>
<text class="t2" style="text-anchor:start" x="534.6" y="694.1">5.9</text>
<path d="M353.9 578.0h4.6L356.2 574.0z" fill="#ff0000"/>
<path d="M381.5 596.8h4.6L383.8 592.8z" fill="#ff0000"/>
<path d="M418.4 624.0h4.6L420.7 620.0z" fill="#ff0000"/>
<path d="M455.2 655.7h4.6L457.5 651.7z" fill="#ff0000"/>
<path d="M510.4 688.3h4.6L512.7 684.3z" fill="#ff0000"/>
<path d="M353.9 572.1h4.6L356.2 576.1z" fill="#000080"/>
<path d="M381.5 594.3h4.6L383.8 598.3z" fill="#000080"/>
<path d="M418.4 624.8h4.6L420.7 628.8z" fill="#000080"/>
<path d="M455.2 650.1h4.6L457.5 654.1z" fill="#000080"/>
<path d="M510.4 683.4h4.6L512.7 687.4z" fill="#000080"/>
<path d="M328.6 557L512.7 688.4" stroke="#000" stroke-width="1.4" fill="none"/>
<path d="M323.6 672.1h4.6L325.9 668.1z" fill="#ff0000"/>
<path d="M323.6 682.9h4.6L325.9 686.9z" fill="#000080"/>
<text class="lg2" x="341.1" y="673.7">method (i)</text>
<text class="lg2" x="341.1" y="687.5">method (ii)</text>
<text class="pl" style="font-size:17px" x="510.3" y="566.8">(d)</text>
<text class="yl" style="font-size:13.1px" transform="translate(564.9 690.6) rotate(-90)">cubic lattice constant<tspan dx="1.5">/</tspan><tspan dx="1.5">Å</tspan></text>
<text class="lab" x="416.3" y="734.3" style="font-style:italic">x</text>
</svg></body></html>
